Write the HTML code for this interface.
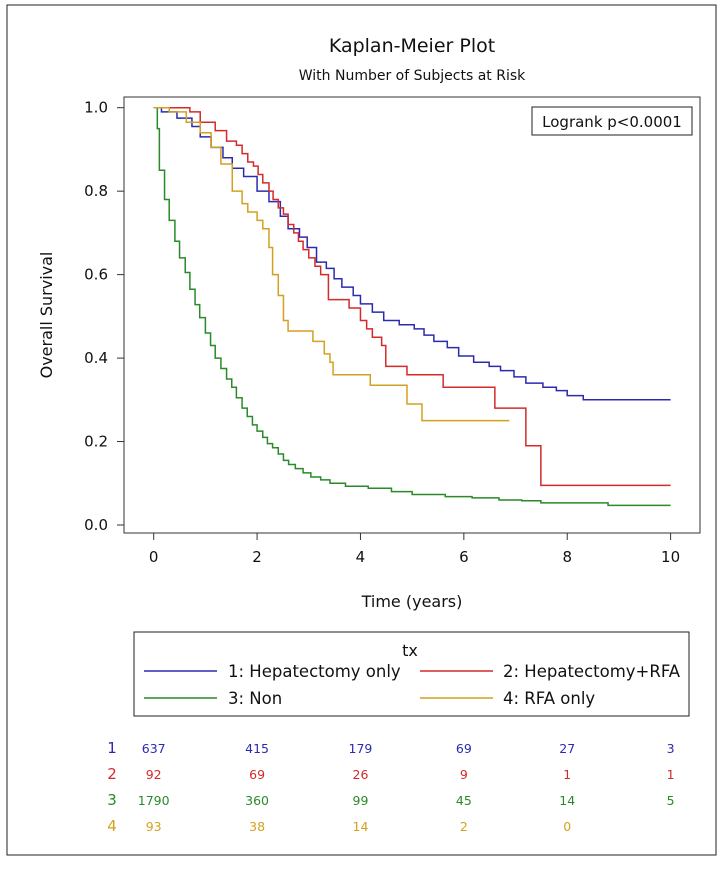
<!DOCTYPE html>
<html><head><meta charset="utf-8"><style>
body{margin:0;background:#fff;}
svg text{font-family:"DejaVu Sans","Liberation Sans",sans-serif;}
</style></head><body>
<svg id="chart" width="725" height="864" viewBox="0 0 725 864" xmlns="http://www.w3.org/2000/svg">
<rect x="7" y="5" width="709" height="850" fill="#fff" stroke="#222" stroke-width="1"/>
<text x="412" y="52" font-size="19" text-anchor="middle" fill="#111">Kaplan-Meier Plot</text>
<text x="412" y="80" font-size="14" text-anchor="middle" fill="#111">With Number of Subjects at Risk</text>
<rect x="124" y="97" width="576" height="436" fill="none" stroke="#333" stroke-width="1"/>
<text transform="translate(52,315) rotate(-90)" font-size="16" text-anchor="middle" fill="#111">Overall Survival</text>
<text x="412" y="607" font-size="16" text-anchor="middle" fill="#111">Time (years)</text>
<rect x="532" y="107" width="160" height="28" fill="#fff" stroke="#222"/>
<text x="612" y="127" font-size="15" text-anchor="middle" fill="#111">Logrank p&lt;0.0001</text>
<g id="axes"></g><g id="curves"></g>
<rect x="134" y="632" width="555" height="84" fill="none" stroke="#222"/>
<text x="410" y="656" font-size="16" text-anchor="middle" fill="#111">tx</text>
<g id="legend"></g><g id="risk"></g>
</svg>
<script>
const NS="http://www.w3.org/2000/svg";
const xTicks=[0,2,4,6,8,10];
const yTicks=[0.0,0.2,0.4,0.6,0.8,1.0];
const seriesNames=["1: Hepatectomy only","2: Hepatectomy+RFA","3: Non","4: RFA only"];
const seriesColors=["#2b2bb0","#d42a2a","#2a8a2a","#d4a020"];
const t1=[0,0.15,0.45,0.74,0.9,1.11,1.34,1.52,1.74,2.0,2.23,2.45,2.6,2.82,2.97,3.15,3.34,3.49,3.64,3.86,4.0,4.23,4.45,4.75,5.04,5.23,5.42,5.68,5.9,6.19,6.49,6.71,6.97,7.2,7.53,7.79,8.0,8.31,10];
const s1=[1,0.99,0.975,0.955,0.93,0.905,0.88,0.855,0.835,0.8,0.775,0.74,0.71,0.69,0.665,0.63,0.615,0.59,0.57,0.55,0.53,0.51,0.49,0.48,0.47,0.455,0.44,0.425,0.405,0.39,0.38,0.37,0.355,0.34,0.33,0.322,0.31,0.3,0.3];
const t2=[0,0.7,0.9,1.19,1.41,1.6,1.71,1.82,1.93,2.02,2.11,2.23,2.31,2.41,2.51,2.6,2.71,2.8,2.89,3.0,3.12,3.23,3.38,3.78,4.0,4.12,4.23,4.41,4.49,4.9,5.6,6.6,7.2,7.49,10];
const s2=[1,0.99,0.965,0.945,0.92,0.91,0.89,0.87,0.86,0.84,0.82,0.8,0.78,0.76,0.745,0.72,0.7,0.68,0.66,0.64,0.62,0.6,0.54,0.52,0.49,0.47,0.45,0.43,0.38,0.36,0.33,0.28,0.19,0.095,0.095];
const t3=[0,0.07,0.11,0.21,0.3,0.41,0.5,0.61,0.7,0.8,0.89,1.0,1.1,1.19,1.3,1.41,1.51,1.6,1.71,1.81,1.91,2.0,2.11,2.2,2.3,2.41,2.51,2.61,2.74,2.89,3.04,3.23,3.41,3.71,4.15,4.6,5.0,5.64,6.16,6.68,7.12,7.49,8.79,10];
const s3=[1,0.95,0.85,0.78,0.73,0.68,0.64,0.605,0.565,0.528,0.497,0.46,0.43,0.4,0.375,0.35,0.33,0.305,0.28,0.26,0.24,0.225,0.21,0.195,0.185,0.17,0.155,0.145,0.135,0.125,0.115,0.108,0.1,0.093,0.088,0.08,0.073,0.068,0.065,0.06,0.058,0.053,0.047,0.047];
const t4=[0,0.3,0.63,0.9,1.11,1.3,1.52,1.71,1.82,2.0,2.11,2.23,2.3,2.41,2.51,2.6,3.08,3.3,3.41,3.47,4.19,4.9,5.19,6.88];
const s4=[1,0.99,0.965,0.94,0.905,0.865,0.8,0.77,0.75,0.73,0.71,0.665,0.6,0.55,0.49,0.465,0.44,0.41,0.39,0.36,0.335,0.29,0.25,0.25];
const riskTimes=[0,2,4,6,8,10];
const risk1=[637,415,179,69,27,3];
const risk2=[92,69,26,9,1,1];
const risk3=[1790,360,99,45,14,5];
const risk4=[93,38,14,2,0,null];
const X=t=>153.7+t*(670.6-153.7)/10;
const Y=v=>525-v*(525-107.7);
function mk(tag,attrs,parent){const e=document.createElementNS(NS,tag);for(const k in attrs)e.setAttribute(k,attrs[k]);parent.appendChild(e);return e;}
const axes=document.getElementById('axes');
xTicks.forEach(t=>{
 const l=mk('line',{x1:X(t),x2:X(t),y1:533,y2:540,stroke:'#333'},axes);
 
 
 const tx=mk('text',{x:X(t),y:562,'font-size':15,'text-anchor':'middle',fill:'#111'},axes);tx.textContent=t;
 
 
});
yTicks.forEach(v=>{
 const l=mk('line',{x1:117,x2:124,y1:Y(v),y2:Y(v),stroke:'#333'},axes);
 
 
 const tx=mk('text',{x:108,y:Y(v)+5,'font-size':15,'text-anchor':'end',fill:'#111'},axes);tx.textContent=v.toFixed(1);
 
 
});
const curves=document.getElementById('curves');
[[t1,s1],[t2,s2],[t3,s3],[t4,s4]].forEach((d,i)=>{
 const [ts,ss]=d;let p='M'+X(ts[0])+','+Y(ss[0]);
 for(let k=1;k<ts.length;k++){p+=' H'+X(ts[k])+' V'+Y(ss[k]);}
 const e=mk('path',{d:p,fill:'none',stroke:seriesColors[i],'stroke-width':1.5},curves);
 
 
});
const leg=document.getElementById('legend');
const lpos=[[144,677,228],[420,677,503],[144,704,228],[420,704,503]];
seriesNames.forEach((n,i)=>{
 const [x,y,tx]=lpos[i];
 const l=mk('line',{x1:x,x2:x+73,y1:y-6,y2:y-6,stroke:seriesColors[i],'stroke-width':1.5},leg);
 
 
 const t=mk('text',{x:tx,y:y,'font-size':16.5,fill:'#111'},leg);t.textContent=n;
 
 
});
const risk=document.getElementById('risk');
[risk1,risk2,risk3,risk4].forEach((row,i)=>{
 const y=753+i*26;
 const lab=mk('text',{x:112,y:y,'font-size':15,'text-anchor':'middle',fill:seriesColors[i]},risk);lab.textContent=i+1;
 
 
 row.forEach((v,j)=>{if(v===null)return;
  const t=mk('text',{x:X(riskTimes[j]),y:y,'font-size':12.5,'text-anchor':'middle',fill:seriesColors[i]},risk);t.textContent=v;
  
  
 });
});
</script>
</body></html>
